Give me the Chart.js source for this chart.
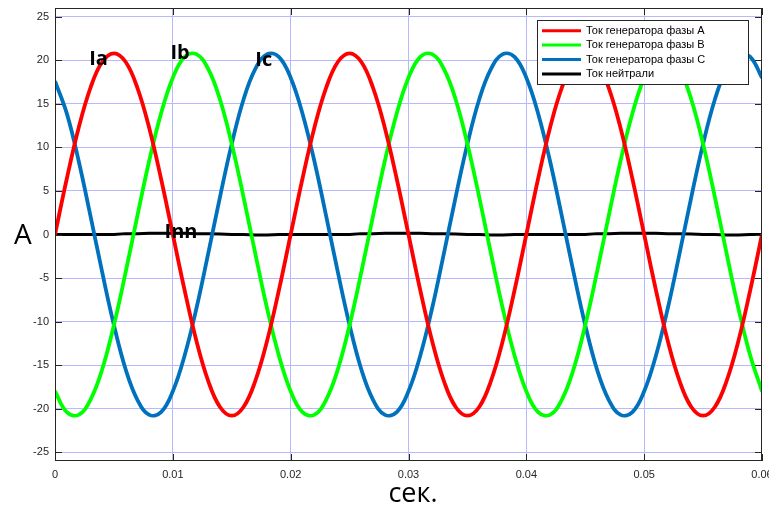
<!DOCTYPE html>
<html>
<head>
<meta charset="utf-8">
<script src="https://cdn.jsdelivr.net/npm/chart.js"></script>
<style>
  html, body { margin: 0; padding: 0; background: #fff; }
  #wrap { width: 769px; height: 505px; }
</style>
</head>
<body>
<div id="wrap"><canvas id="chart" width="769" height="505"></canvas></div>
<script>
// time, s (sampled every 1 ms)
const times = [
  0.000, 0.001, 0.002, 0.003, 0.004, 0.005, 0.006, 0.007, 0.008, 0.009,
  0.010, 0.011, 0.012, 0.013, 0.014, 0.015, 0.016, 0.017, 0.018, 0.019,
  0.020, 0.021, 0.022, 0.023, 0.024, 0.025, 0.026, 0.027, 0.028, 0.029,
  0.030, 0.031, 0.032, 0.033, 0.034, 0.035, 0.036, 0.037, 0.038, 0.039,
  0.040, 0.041, 0.042, 0.043, 0.044, 0.045, 0.046, 0.047, 0.048, 0.049,
  0.050, 0.051, 0.052, 0.053, 0.054, 0.055, 0.056, 0.057, 0.058, 0.059,
  0.060
];

// phase currents, A
const currentA = [
  0, 6.4, 12.2, 16.8, 19.8, 20.8, 19.8, 16.8, 12.2, 6.4,
  0, -6.4, -12.2, -16.8, -19.8, -20.8, -19.8, -16.8, -12.2, -6.4,
  0, 6.4, 12.2, 16.8, 19.8, 20.8, 19.8, 16.8, 12.2, 6.4,
  0, -6.4, -12.2, -16.8, -19.8, -20.8, -19.8, -16.8, -12.2, -6.4,
  0, 6.4, 12.2, 16.8, 19.8, 20.8, 19.8, 16.8, 12.2, 6.4,
  0, -6.4, -12.2, -16.8, -19.8, -20.8, -19.8, -16.8, -12.2, -6.4,
  0
];
const currentB = [
  -18.0, -20.4, -20.7, -19.0, -15.5, -10.4, -4.3, 2.2, 8.5, 13.9,
  18.0, 20.4, 20.7, 19.0, 15.5, 10.4, 4.3, -2.2, -8.5, -13.9,
  -18.0, -20.4, -20.7, -19.0, -15.5, -10.4, -4.3, 2.2, 8.5, 13.9,
  18.0, 20.4, 20.7, 19.0, 15.5, 10.4, 4.3, -2.2, -8.5, -13.9,
  -18.0, -20.4, -20.7, -19.0, -15.5, -10.4, -4.3, 2.2, 8.5, 13.9,
  18.0, 20.4, 20.7, 19.0, 15.5, 10.4, 4.3, -2.2, -8.5, -13.9,
  -18.0
];
const currentC = [
  17.6, 13.9, 8.5, 2.2, -4.3, -10.4, -15.5, -19.0, -20.7, -20.4,
  -18.0, -13.9, -8.5, -2.2, 4.3, 10.4, 15.5, 19.0, 20.7, 20.4,
  18.0, 13.9, 8.5, 2.2, -4.3, -10.4, -15.5, -19.0, -20.7, -20.4,
  -18.0, -13.9, -8.5, -2.2, 4.3, 10.4, 15.5, 19.0, 20.7, 20.4,
  18.0, 13.9, 8.5, 2.2, -4.3, -10.4, -15.5, -19.0, -20.7, -20.4,
  -18.0, -13.9, -8.5, -2.2, 4.3, 10.4, 15.5, 19.0, 20.7, 20.4,
  18.0
];
const currentN = [
  0, 0, 0, 0, 0, 0, 0.1, 0.1, 0.15, 0.15,
  0.15, 0.15, 0.1, 0.1, 0.05, 0, 0, -0.05, -0.05, 0,
  0, 0, 0, 0, 0, 0, 0.1, 0.1, 0.15, 0.15,
  0.15, 0.15, 0.1, 0.1, 0.05, 0, 0, -0.05, -0.05, 0,
  0, 0, 0, 0, 0, 0, 0.1, 0.1, 0.15, 0.15,
  0.15, 0.15, 0.1, 0.1, 0.05, 0, 0, -0.05, -0.05, 0,
  0
];

const seriesLabels = ['Ток генератора фазы A', 'Ток генератора фазы B', 'Ток генератора фазы C', 'Ток нейтрали'];
const seriesColors = ['#ff0000', '#00ff00', '#0072bd', '#000000'];

const xTicks = [0, 0.01, 0.02, 0.03, 0.04, 0.05, 0.06];
const xTickLabels = ['0', '0.01', '0.02', '0.03', '0.04', '0.05', '0.06'];
const yTicks = [-25, -20, -15, -10, -5, 0, 5, 10, 15, 20, 25];
const yTickLabels = ['-25', '-20', '-15', '-10', '-5', '0', '5', '10', '15', '20', '25'];
const xTitle = 'сек.';
const yTitle = 'A';

// curve names written on the plot: text, time, value
const curveNames = [
  ['Ia', 0.0029, 19.5],
  ['Ib', 0.0098, 20.1],
  ['Ic', 0.0170, 19.3],
  ['Inn', 0.0093, -0.4]
];

const toPoints = (vals) => vals.map((v, i) => ({ x: times[i], y: v }));
const seriesData = [currentA, currentB, currentC, currentN];

const datasets = seriesData.map((vals, i) => ({
  label: seriesLabels[i],
  data: toPoints(vals),
  borderColor: seriesColors[i],
  backgroundColor: seriesColors[i],
  borderWidth: i === 3 ? 3 : 3.8,
  pointRadius: 0,
  tension: i === 3 ? 0 : 0.4,
  fill: false
}));

const tickFont = { family: '"Liberation Sans", Arial, sans-serif', size: 11 };
const tickColor = '#262626';
const gridColor = '#b8b8ff';

// no grid line on the plot frame itself
const gridAt = (ctx) => {
  const n = ctx.scale.ticks.length;
  return (ctx.index === 0 || ctx.index === n - 1) ? 'rgba(0,0,0,0)' : gridColor;
};

// box, inner ticks, curve names, axis titles, legend
const decorPlugin = {
  id: 'decor',
  afterDatasetsDraw(chart) {
    const { ctx, chartArea: a, scales } = chart;
    const xs = scales.x, ys = scales.y;
    ctx.save();
    ctx.strokeStyle = '#262626';
    ctx.lineWidth = 1;
    ctx.strokeRect(a.left + 0.5, a.top + 0.5, a.right - a.left - 1, a.bottom - a.top - 1);
    ctx.beginPath();
    xTicks.forEach(t => {
      const px = Math.round(xs.getPixelForValue(t)) + 0.5;
      ctx.moveTo(px, a.bottom); ctx.lineTo(px, a.bottom - 7);
      ctx.moveTo(px, a.top); ctx.lineTo(px, a.top + 7);
    });
    yTicks.forEach(v => {
      const py = Math.round(ys.getPixelForValue(v)) + 0.5;
      ctx.moveTo(a.left, py); ctx.lineTo(a.left + 7, py);
      ctx.moveTo(a.right, py); ctx.lineTo(a.right - 7, py);
    });
    ctx.stroke();

    // curve names
    ctx.fillStyle = '#000';
    ctx.textBaseline = 'alphabetic';
    ctx.textAlign = 'left';
    ctx.font = 'bold 20px "Open Sans", sans-serif';
    curveNames.forEach(([txt, t, v]) => {
      ctx.fillText(txt, xs.getPixelForValue(t), ys.getPixelForValue(v));
    });

    // axis titles
    ctx.font = '28px "Open Sans", sans-serif';
    ctx.fillText(yTitle, 14, 244);
    ctx.font = '27px "Open Sans", sans-serif';
    ctx.textAlign = 'center';
    ctx.fillText(xTitle, 413, 502);

    // legend
    const lx = 537, ly = 20, lw = 211, lh = 64;
    ctx.textAlign = 'left';
    ctx.fillStyle = '#fff';
    ctx.fillRect(lx, ly, lw, lh);
    ctx.strokeStyle = '#262626';
    ctx.lineWidth = 1;
    ctx.strokeRect(lx + 0.5, ly + 0.5, lw, lh);
    ctx.font = '11px "Liberation Sans", Arial, sans-serif';
    ctx.textBaseline = 'middle';
    seriesLabels.forEach((lab, i) => {
      const yy = ly + 10.7 + i * 14.4;
      ctx.strokeStyle = seriesColors[i];
      ctx.lineWidth = 3;
      ctx.beginPath();
      ctx.moveTo(lx + 5, yy); ctx.lineTo(lx + 44, yy);
      ctx.stroke();
      ctx.fillStyle = '#000';
      ctx.fillText(lab, lx + 49, yy);
    });
    ctx.restore();
  }
};

new Chart(document.getElementById('chart'), {
  type: 'line',
  data: { datasets },
  options: {
    responsive: false,
    animation: false,
    layout: { padding: { top: 8, right: 7, left: 0, bottom: 0 } },
    plugins: {
      legend: { display: false },
      tooltip: { enabled: false }
    },
    scales: {
      x: {
        type: 'linear',
        min: 0,
        max: 0.06,
        afterBuildTicks: (s) => { s.ticks = xTicks.map(v => ({ value: v })); },
        afterFit: (s) => { s.height = 44; s.paddingLeft = 0; s.paddingRight = 0; },
        grid: { color: gridAt, drawTicks: false },
        border: { display: false },
        ticks: {
          font: tickFont,
          color: tickColor,
          padding: 7,
          maxRotation: 0,
          autoSkip: false,
          callback: (v, i) => xTickLabels[i]
        }
      },
      y: {
        type: 'linear',
        min: -26,
        max: 26,
        afterBuildTicks: (s) => { s.ticks = yTicks.map(v => ({ value: v })); },
        afterFit: (s) => { s.width = 55; s.paddingTop = 0; s.paddingBottom = 0; },
        grid: { color: gridColor, drawTicks: false },
        border: { display: false },
        ticks: {
          font: tickFont,
          color: tickColor,
          padding: 6,
          autoSkip: false,
          callback: (v, i) => yTickLabels[i]
        }
      }
    }
  },
  plugins: [decorPlugin]
});
</script>
</body>
</html>
